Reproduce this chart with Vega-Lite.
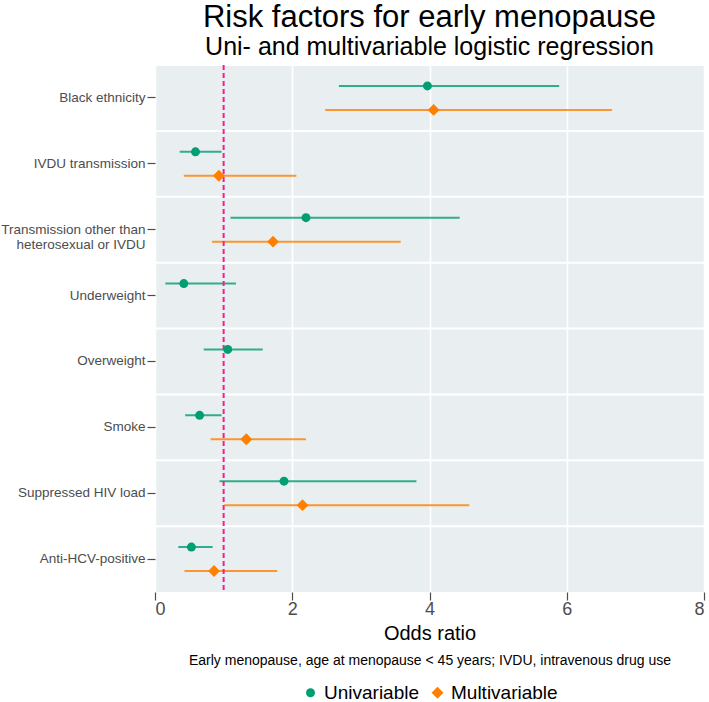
{
  "$schema": "https://vega.github.io/schema/vega-lite/v6.json",
  "width": 549,
  "height": 527,
  "padding": {"left": 0, "top": 2, "right": 2, "bottom": 0},
  "background": "white",
  "config": {
    "font": "Liberation Sans",
    "view": {"fill": "#e9eff1", "stroke": null},
    "legend": {"layout": {"bottom": {"anchor": "middle"}}}
  },
  "title": {
    "text": "Risk factors for early menopause",
    "subtitle": "Uni- and multivariable logistic regression",
    "fontSize": 31,
    "fontWeight": "normal",
    "color": "black",
    "subtitleFontSize": 25,
    "subtitleColor": "black",
    "subtitlePadding": 1,
    "anchor": "middle",
    "offset": 3
  },
  "datasets": {
    "est": [
      {"factor": "Black ethnicity", "model": "Univariable", "or": 3.97, "lo": 2.68, "hi": 5.89},
      {"factor": "Black ethnicity", "model": "Multivariable", "or": 4.06, "lo": 2.48, "hi": 6.66},
      {"factor": "IVDU transmission", "model": "Univariable", "or": 0.59, "lo": 0.36, "hi": 0.97},
      {"factor": "IVDU transmission", "model": "Multivariable", "or": 0.93, "lo": 0.42, "hi": 2.06},
      {"factor": "Transmission other than heterosexual or IVDU", "model": "Univariable", "or": 2.2, "lo": 1.1, "hi": 4.44},
      {"factor": "Transmission other than heterosexual or IVDU", "model": "Multivariable", "or": 1.72, "lo": 0.83, "hi": 3.58},
      {"factor": "Underweight", "model": "Univariable", "or": 0.42, "lo": 0.15, "hi": 1.18},
      {"factor": "Overweight", "model": "Univariable", "or": 1.06, "lo": 0.71, "hi": 1.57},
      {"factor": "Smoke", "model": "Univariable", "or": 0.65, "lo": 0.44, "hi": 0.97},
      {"factor": "Smoke", "model": "Multivariable", "or": 1.33, "lo": 0.81, "hi": 2.2},
      {"factor": "Suppressed HIV load", "model": "Univariable", "or": 1.88, "lo": 0.94, "hi": 3.81},
      {"factor": "Suppressed HIV load", "model": "Multivariable", "or": 2.15, "lo": 1.01, "hi": 4.58},
      {"factor": "Anti-HCV-positive", "model": "Univariable", "or": 0.53, "lo": 0.34, "hi": 0.84},
      {"factor": "Anti-HCV-positive", "model": "Multivariable", "or": 0.86, "lo": 0.43, "hi": 1.78}
    ],
    "cats": [
      {"factor": "Black ethnicity"},
      {"factor": "IVDU transmission"},
      {"factor": "Transmission other than heterosexual or IVDU"},
      {"factor": "Underweight"},
      {"factor": "Overweight"},
      {"factor": "Smoke"},
      {"factor": "Suppressed HIV load"},
      {"factor": "Anti-HCV-positive"}
    ],
    "ref": [{"v": 1}]
  },
  "resolve": {
    "scale": {"color": "shared", "shape": "shared"},
    "axis": {"x": "independent"},
    "legend": {"color": "independent", "shape": "independent", "size": "independent"}
  },
  "layer": [
    {
      "data": {"name": "cats"},
      "mark": {"type": "rule", "color": "white", "strokeWidth": 2},
      "encoding": {
        "y": {
          "field": "factor",
          "type": "nominal",
          "bandPosition": 0,
          "sort": ["Black ethnicity", "IVDU transmission", "Transmission other than heterosexual or IVDU", "Underweight", "Overweight", "Smoke", "Suppressed HIV load", "Anti-HCV-positive"],
          "scale": {"type": "band", "paddingInner": 0, "paddingOuter": 0},
          "axis": {
            "title": null,
            "domain": false,
            "grid": false,
            "ticks": true,
            "tickColor": "#4d4d4d",
            "tickSize": 8,
            "tickWidth": 1.2,
            "tickBand": "center",
            "labelPadding": 2,
            "labelFontSize": 13.5,
            "labelColor": "#4d4d4d",
            "labelLimit": 300,
            "labelLineHeight": 15,
            "labelExpr": "datum.value == 'Transmission other than heterosexual or IVDU' ? ['Transmission other than', 'heterosexual or IVDU'] : datum.value"
          }
        }
      }
    },
    {
      "data": {"name": "est"},
      "mark": {"type": "rule", "strokeWidth": 2, "opacity": 0.8},
      "encoding": {
        "y": {"field": "factor", "type": "nominal", "sort": ["Black ethnicity", "IVDU transmission", "Transmission other than heterosexual or IVDU", "Underweight", "Overweight", "Smoke", "Suppressed HIV load", "Anti-HCV-positive"]},
        "x": {
          "field": "lo",
          "type": "quantitative",
          "scale": {"domain": [0, 8], "nice": false, "zero": false},
          "axis": {
            "orient": "bottom",
            "values": [0, 2, 4, 6, 8],
            "format": "d",
            "title": "Odds ratio",
            "titleFontSize": 20,
            "titleFontWeight": "normal",
            "titleColor": "black",
            "titlePadding": 5,
            "labelFontSize": 18,
            "labelColor": "#4d4d4d",
            "labelPadding": 0,
            "domain": false,
            "ticks": true,
            "tickColor": "#4d4d4d",
            "tickSize": 8,
            "tickWidth": 1.2,
            "grid": true,
            "gridColor": "white",
            "gridWidth": 1.5
          }
        },
        "x2": {"field": "hi"},
        "yOffset": {"field": "model", "type": "nominal", "sort": ["Univariable", "Multivariable"], "scale": {"type": "point", "padding": 0.875}},
        "color": {"field": "model", "type": "nominal", "legend": null}
      }
    },
    {
      "data": {"name": "ref"},
      "mark": {"type": "rule", "color": "#ff1a8c", "strokeWidth": 2, "strokeDash": [5, 3]},
      "encoding": {
        "x": {
          "field": "v",
          "type": "quantitative",
          "axis": {
            "orient": "bottom",
            "offset": 61,
            "title": "Early menopause, age at menopause < 45 years; IVDU, intravenous drug use",
            "titleFontSize": 14,
            "titleFontWeight": "normal",
            "titleColor": "black",
            "titlePadding": 0,
            "titleLimit": 700,
            "labels": false,
            "ticks": false,
            "domain": false,
            "grid": false
          }
        }
      }
    },
    {
      "data": {"name": "est"},
      "mark": {"type": "point", "filled": true, "opacity": 1},
      "encoding": {
        "y": {"field": "factor", "type": "nominal", "sort": ["Black ethnicity", "IVDU transmission", "Transmission other than heterosexual or IVDU", "Underweight", "Overweight", "Smoke", "Suppressed HIV load", "Anti-HCV-positive"]},
        "x": {"field": "or", "type": "quantitative", "axis": null},
        "yOffset": {"field": "model", "type": "nominal", "sort": ["Univariable", "Multivariable"], "scale": {"type": "point", "padding": 0.875}},
        "size": {
          "field": "model",
          "type": "nominal",
          "sort": ["Univariable", "Multivariable"],
          "scale": {"domain": ["Univariable", "Multivariable"], "range": [80, 140]}
        },
        "color": {
          "field": "model",
          "type": "nominal",
          "sort": ["Univariable", "Multivariable"],
          "scale": {"domain": ["Univariable", "Multivariable"], "range": ["#009E73", "#FF7F00"]},
          "legend": {
            "orient": "bottom",
            "direction": "horizontal",
            "title": null,
            "labelFontSize": 19,
            "labelColor": "black",
            "offset": 16,
            "columnPadding": 8
          }
        },
        "shape": {
          "field": "model",
          "type": "nominal",
          "sort": ["Univariable", "Multivariable"],
          "scale": {"domain": ["Univariable", "Multivariable"], "range": ["circle", "diamond"]}
        }
      }
    }
  ]
}
